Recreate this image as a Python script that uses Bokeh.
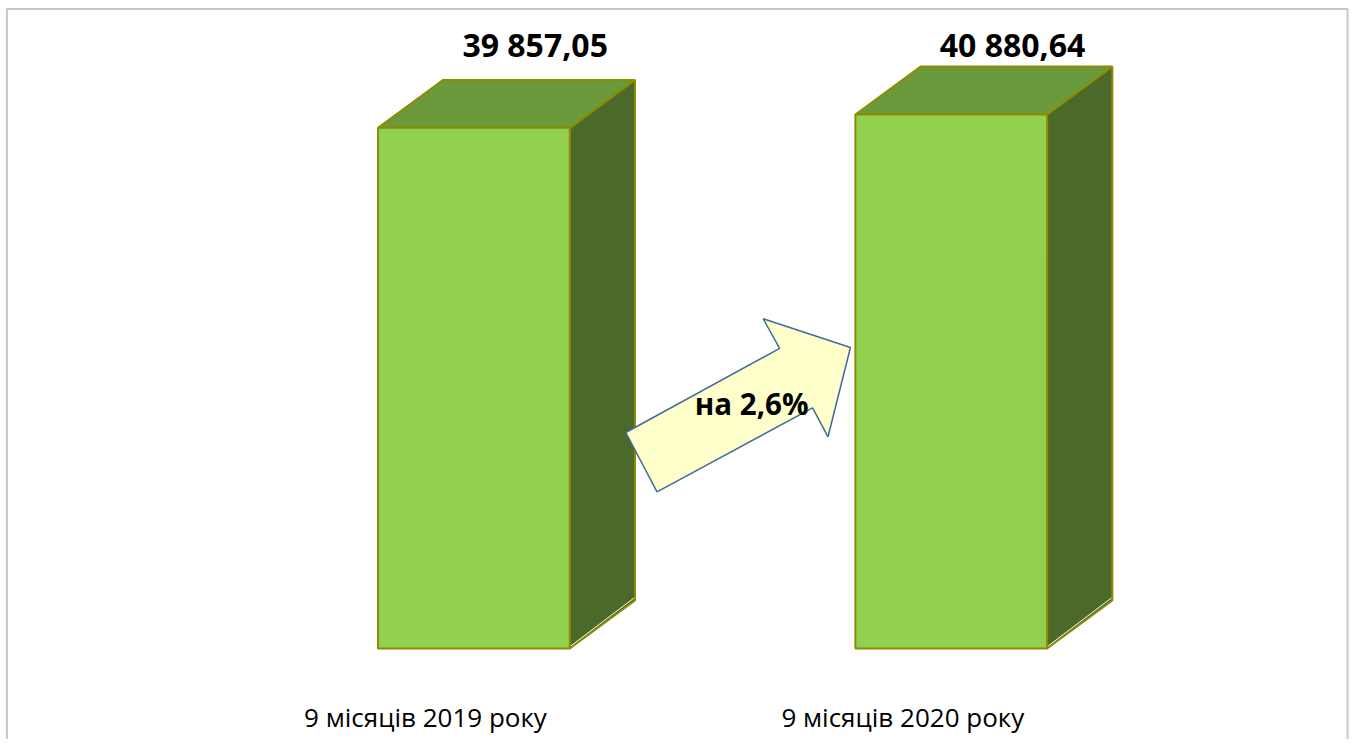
from bokeh.plotting import figure
from bokeh.models import Range1d, ColumnDataSource
from bokeh.core.properties import value
from bokeh.embed import file_html
from bokeh.resources import INLINE

# ---- data ----
categories = ["9 місяців 2019 року", "9 місяців 2020 року"]
values = [39857.05, 40880.64]
value_labels = ["39 857,05", "40 880,64"]
growth_label = "на 2,6%"

# ---- layout constants (pixels) ----
W, H = 1353, 739
FX, FY = W / 1369.0, H / 747.0   # reference-to-figure pixel scaling
K = 0.013062          # px per value unit
BASE_SY = 655 * FY    # screen y of value 0
PX = 483.0 * FX       # px per category step
X0_SX = 479.0 * FX    # screen x of first category centre
BAR_W_PX = 194 * FX
DEPTH_X_PX, DEPTH_Y_PX = 66 * FX, 48.5 * FY

x_start = -X0_SX / PX
x_end = (W - X0_SX) / PX
y_end = BASE_SY / K
y_start = -(H - BASE_SY) / K


def dx(px):
    return px / PX


def dy(px):
    return px / K


def rx(ref_x):
    """reference-image x pixel -> data x"""
    return x_start + ref_x * FX / PX


def ry(ref_y):
    """reference-image y pixel -> data y"""
    return y_end - ref_y * FY / K


p = figure(width=W, height=H, x_range=Range1d(x_start, x_end), y_range=Range1d(y_start, y_end),
           toolbar_location=None, output_backend="svg", min_border=0)
p.axis.visible = False
p.grid.visible = False
p.outline_line_color = None
p.background_fill_color = "white"
p.border_fill_color = "white"

FRONT = "#92D050"
TOP = "#6B9A3C"
SIDE = "#4B6928"
EDGE = "#8C8C00"

xs = list(range(len(values)))
w = dx(BAR_W_PX)
ddx, ddy = dx(DEPTH_X_PX), dy(DEPTH_Y_PX)

side_xs, side_ys, top_xs, top_ys = [], [], [], []
for x, v in zip(xs, values):
    r = x + w / 2
    l = x - w / 2
    side_xs.append([r, r + ddx, r + ddx, r])
    side_ys.append([0, ddy, v + ddy, v])
    top_xs.append([l, l + ddx, r + ddx, r])
    top_ys.append([v, v + ddy, v + ddy, v])

p.patches(side_xs, side_ys, fill_color=SIDE, line_color=EDGE, line_width=2)
p.patches(top_xs, top_ys, fill_color=TOP, line_color=EDGE, line_width=2)

# white highlight along side bottom edge
p.segment(x0=[x + w / 2 + dx(1) for x in xs], y0=[dy(2.5)] * len(xs),
          x1=[x + w / 2 + ddx - dx(1) for x in xs], y1=[ddy + dy(2.5)] * len(xs),
          line_color="white", line_width=1)

src = ColumnDataSource(dict(x=xs, top=values, cat=categories, lab=value_labels))
p.vbar(x="x", width=w, bottom=0, top="top", source=src,
       fill_color=FRONT, line_color=EDGE, line_width=2)

# value labels
p.text(x=[x + dx(62 * FX) for x in xs], y=[ry(44)] * len(xs), text=value_labels,
       text_font=value("Open Sans"), text_font_style="bold", text_font_size="32px",
       text_align="center", text_baseline="middle", text_color="black")

# category labels
p.text(x=[x - dx(49 * FX) for x in xs], y=[ry(724)] * len(xs), text=categories,
       text_font=value("Open Sans"), text_font_size="26px",
       text_align="center", text_baseline="middle", text_color="black")

# growth arrow (decoration, reference pixel outline)
arrow_ref = [(632.7, 436.7), (788.3, 351.7), (771.7, 321.7), (860, 350.7),
             (837.3, 441), (821.7, 411.7), (664.3, 496.7)]
p.patch([rx(a) for a, b in arrow_ref], [ry(b) for a, b in arrow_ref],
        fill_color="#FFFFCC", line_color="#416A9A", line_width=1.5)
p.text(x=[rx(760)], y=[ry(407)], text=[growth_label],
       text_font=value("Open Sans"), text_font_style="bold", text_font_size="29.5px",
       text_align="center", text_baseline="middle", text_color="black")

# chart-area border (left, top, right)
p.line([rx(6.5), rx(6.5), rx(1363), rx(1363)],
       [ry(800), ry(8.5), ry(8.5), ry(800)],
       line_color="#C8C8C8", line_width=2)

open("out.html", "w").write(file_html(p, INLINE))
